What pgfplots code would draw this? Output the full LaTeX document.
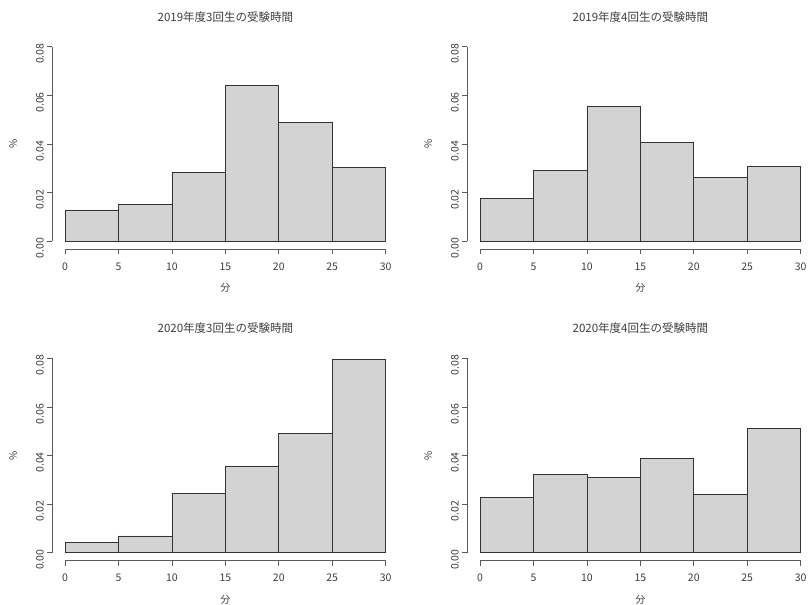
\documentclass[border=0pt]{standalone}
\usepackage{pgfplots}
\pgfplotsset{compat=1.18}
\usepackage{fontspec}
\setmainfont{Noto Sans CJK JP}
\definecolor{barfill}{RGB}{211,211,211}
\definecolor{txt}{RGB}{60,60,60}
\definecolor{axc}{RGB}{90,90,90}
\pgfplotsset{
  rhist/.style={
    scale only axis, width=346.3bp, height=210bp,
    xmin=-1.2, xmax=31.2, ymin=-0.0032, ymax=0.0832,
    axis x line*=bottom, axis y line*=left,
    axis line style={draw=none},
    tick align=outside, major tick length=5bp,
    tick style={axc, line width=0.6bp},
    xtick={0,5,...,30}, ytick={0,0.02,0.04,0.06,0.08},
    minor tick num=0,
    /pgf/number format/assume math mode=true,
    yticklabel={\pgfmathprintnumber[fixed,fixed zerofill,precision=2]{\tick}},
    xticklabel style={font=\fontsize{10.5bp}{12bp}\selectfont, text=txt, yshift=-5bp},
    yticklabel style={font=\fontsize{10.5bp}{12bp}\selectfont, text=txt, rotate=90, anchor=south, xshift=-7bp},
    scaled y ticks=false,
    every axis title shift=0pt,
    title style={font=\fontsize{11.5bp}{14bp}\selectfont, text=txt, at={(axis description cs:0.5,1)}, anchor=center, yshift=22bp},
    xlabel style={font=\fontsize{10bp}{12bp}\selectfont, text=txt, at={(axis description cs:0.5,0)}, anchor=center, yshift=-39bp},
    ylabel style={font=\fontsize{10bp}{12bp}\selectfont, text=txt, at={(axis description cs:0,0.5)}, anchor=center, yshift=39bp},
    xlabel={分}, ylabel={\%},
    clip=false,
  },
  rbar/.style={ybar interval, fill=barfill, draw=black!80, line width=0.7bp},
}
\newcommand{\raxes}{%
  \draw[axc, line width=0.6bp] (axis cs:0,-0.0032) -- (axis cs:30,-0.0032);
  \draw[axc, line width=0.6bp] (axis cs:-1.2,0) -- (axis cs:-1.2,0.08);
}
\begin{document}
\begin{tikzpicture}
\path[use as bounding box] (0,0) rectangle (808bp,605bp);
\begin{axis}[rhist, at={(52.2bp,356bp)}, anchor=south west, title={2019年度3回生の受験時間}]
\addplot[rbar] coordinates {(0,0.0129) (5,0.0151) (10,0.0283) (15,0.0642) (20,0.0488) (25,0.0304) (30,0.0304)};
\raxes
\end{axis}
\begin{axis}[rhist, at={(467.2bp,356bp)}, anchor=south west, title={2019年度4回生の受験時間}]
\addplot[rbar] coordinates {(0,0.0175) (5,0.0291) (10,0.0555) (15,0.0408) (20,0.0263) (25,0.0308) (30,0.0308)};
\raxes
\end{axis}
\begin{axis}[rhist, at={(52.2bp,44.5bp)}, anchor=south west, title={2020年度3回生の受験時間}]
\addplot[rbar] coordinates {(0,0.0044) (5,0.0069) (10,0.0245) (15,0.0357) (20,0.0492) (25,0.0795) (30,0.0795)};
\raxes
\end{axis}
\begin{axis}[rhist, at={(467.2bp,44.5bp)}, anchor=south west, title={2020年度4回生の受験時間}]
\addplot[rbar] coordinates {(0,0.0228) (5,0.0322) (10,0.0309) (15,0.0389) (20,0.0242) (25,0.0510) (30,0.0510)};
\raxes
\end{axis}
\end{tikzpicture}
\end{document}
